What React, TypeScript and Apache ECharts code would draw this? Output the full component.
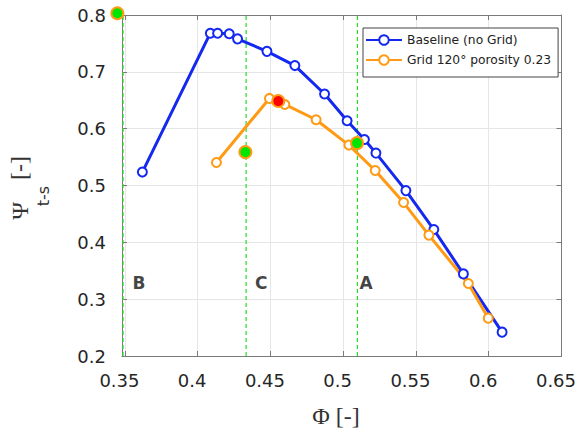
import React, { useEffect, useRef } from "react";
import * as echarts from "echarts";

const baselineX = [0.362, 0.4087, 0.4137, 0.4217, 0.4274, 0.4476, 0.4668, 0.4872, 0.5027, 0.5146, 0.5225, 0.5431, 0.5623, 0.5826, 0.6092];
const baselineY = [0.5236, 0.768, 0.768, 0.767, 0.758, 0.736, 0.711, 0.661, 0.614, 0.581, 0.557, 0.491, 0.4225, 0.3445, 0.242];
const gridX = [0.4129, 0.4493, 0.4599, 0.4814, 0.5039, 0.522, 0.5415, 0.5589, 0.586, 0.5997];
const gridY = [0.5405, 0.6532, 0.6426, 0.6157, 0.5711, 0.5264, 0.47, 0.4127, 0.3275, 0.2666];
const greenPoints = [[0.3448, 0.803], [0.4328, 0.5588], [0.5095, 0.5746]];
const redPoints = [[0.4554, 0.6486]];
const refLinesX = [0.3487, 0.4333, 0.5098];
const refLineSpan = [0.2, 0.8];
const letterLabels = ["B", "C", "A"];
const letterX = [0.3597, 0.4436, 0.5158];
const letterY = 0.328;
const xTicks = [0.35, 0.4, 0.45, 0.5, 0.55, 0.6, 0.65];

const BLUE = "#1428f0";
const ORANGE = "#ff9a14";
const GREEN = "#22dd22";
const AXIS = "#7a7a7a";
const TICK_FONT = "DejaVu Sans";

export default function App() {
  const ref = useRef<HTMLDivElement>(null);
  useEffect(() => {
    if (!ref.current) return;
    const chart = echarts.init(ref.current, null, { renderer: "svg" });
    const fmt = (v: number) => String(+Number(v).toFixed(2));
    const option: any = {
      animation: false,
      backgroundColor: "#ffffff",
      grid: { left: 122, right: 17, top: 15, bottom: 79 },
      legend: {
        left: 363,
        top: 28,
        orient: "vertical",
        data: ["Baseline (no Grid)", "Grid 120° porosity 0.23"],
        itemWidth: 36,
        itemHeight: 12,
        itemGap: 8,
        padding: [6, 7, 11, 2],
        borderColor: "#444",
        borderWidth: 1,
        backgroundColor: "#fff",
        textStyle: { fontFamily: TICK_FONT, fontSize: 12.3, color: "#222" },
      },
      xAxis: [
        {
          type: "value",
          min: 0.348,
          max: 0.65,
          axisLine: { show: true, onZero: false, lineStyle: { color: AXIS } },
          axisTick: { show: true, inside: true, length: 5, customValues: xTicks, lineStyle: { color: AXIS } },
          axisLabel: { customValues: xTicks, formatter: fmt, fontFamily: TICK_FONT, fontSize: 18, color: "#262626", margin: 15, padding: [0, 11, 0, 0] },
          splitLine: { show: true, lineStyle: { color: "#e6e6e6" } },
        },
        {
          type: "value",
          position: "top",
          min: 0.348,
          max: 0.65,
          axisLine: { show: true, onZero: false, lineStyle: { color: AXIS } },
          axisTick: { show: true, inside: true, length: 5, customValues: xTicks, lineStyle: { color: AXIS } },
          axisLabel: { show: false },
          splitLine: { show: false },
        },
      ],
      yAxis: [
        {
          type: "value",
          min: 0.2,
          max: 0.8,
          interval: 0.1,
          axisLine: { show: true, onZero: false, lineStyle: { color: AXIS } },
          axisTick: { show: true, inside: true, length: 5, lineStyle: { color: AXIS } },
          axisLabel: { formatter: fmt, fontFamily: TICK_FONT, fontSize: 18, color: "#262626", margin: 16 },
          splitLine: { show: true, lineStyle: { color: "#e6e6e6" } },
        },
        {
          type: "value",
          position: "right",
          min: 0.2,
          max: 0.8,
          interval: 0.1,
          axisLine: { show: true, onZero: false, lineStyle: { color: AXIS } },
          axisTick: { show: true, inside: true, length: 5, lineStyle: { color: AXIS } },
          axisLabel: { show: false },
          splitLine: { show: false },
        },
      ],
      graphic: [
        {
          type: "group",
          x: 20,
          y: 211,
          rotation: Math.PI / 2,
          children: [
            { type: "text", x: 0, y: 0, style: { text: "Ψ", font: "24px 'Liberation Serif'", fill: "#333", align: "center", verticalAlign: "middle" } },
            { type: "text", x: 15, y: 23, style: { text: "t-s", font: "16px 'DejaVu Sans'", fill: "#333", align: "center", verticalAlign: "middle" } },
            { type: "text", x: 43, y: -1, style: { text: "[-]", font: "24px 'Liberation Serif'", fill: "#333", align: "center", verticalAlign: "middle" } },
          ],
        },
        {
          type: "text",
          x: 336,
          y: 416,
          style: { text: "Φ [-]", font: "24px 'Liberation Serif'", fill: "#333", align: "center", verticalAlign: "middle" },
        },
      ],
      series: [
        ...refLinesX.map((x, i) => ({
          name: "ref" + i,
          type: "line",
          data: refLineSpan.map((y) => [x, y]),
          symbol: "none",
          silent: true,
          lineStyle: { color: GREEN, type: [4, 3], width: 1.2 },
          z: 1,
        })),
        {
          name: "letters",
          type: "scatter",
          symbolSize: 0,
          silent: true,
          data: letterLabels.map((l, i) => ({ value: [letterX[i], letterY], name: l })),
          label: {
            show: true,
            position: "inside",
            formatter: (p: any) => p.name,
            fontFamily: TICK_FONT,
            fontWeight: "bold",
            fontSize: 17,
            color: "#111",
          },
        },
        {
          name: "Baseline (no Grid)",
          type: "line",
          data: baselineX.map((x, i) => [x, baselineY[i]]),
          symbol: "emptyCircle",
          symbolSize: 9,
          showAllSymbol: true,
          lineStyle: { color: BLUE, width: 3 },
          itemStyle: { color: BLUE, borderWidth: 1.5 },
          z: 3,
        },
        {
          name: "Grid 120° porosity 0.23",
          type: "line",
          data: gridX.map((x, i) => [x, gridY[i]]),
          symbol: "emptyCircle",
          symbolSize: 9,
          showAllSymbol: true,
          lineStyle: { color: ORANGE, width: 3 },
          itemStyle: { color: ORANGE, borderWidth: 1.5 },
          z: 3,
        },
        {
          name: "green",
          type: "scatter",
          data: greenPoints,
          symbolSize: 12,
          clip: false,
          itemStyle: { color: "#00e600", borderColor: ORANGE, borderWidth: 2, opacity: 1 },
          z: 5,
        },
        {
          name: "red",
          type: "scatter",
          data: redPoints,
          symbolSize: 12,
          clip: false,
          itemStyle: { color: "#ff0000", borderColor: ORANGE, borderWidth: 2, opacity: 1 },
          z: 5,
        },
      ],
    };
    chart.setOption(option);
    return () => chart.dispose();
  }, []);
  return <div ref={ref} style={{ position: "absolute", left: 0, top: 0, width: 579, height: 435 }} />;
}
